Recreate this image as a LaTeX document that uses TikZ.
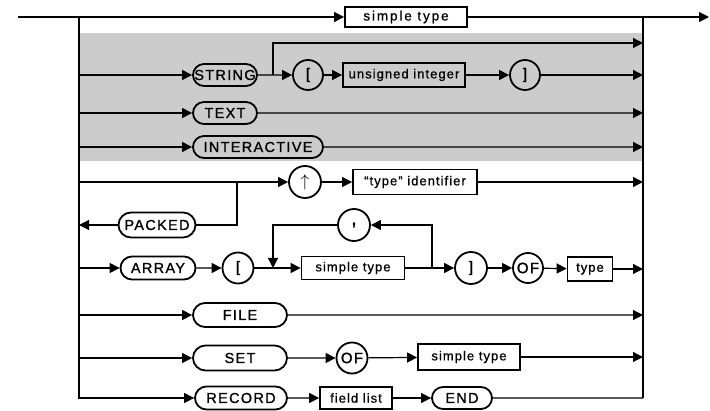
\documentclass[tikz,border=0pt]{standalone}
\usepackage{fontspec}
\usetikzlibrary{arrows.meta,shapes.misc}
\newfontfamily\kwfont[LetterSpace=9,FakeBold=1.2]{Liberation Sans}
\newfontfamily\idfont[LetterSpace=8,FakeBold=0.8]{Liberation Sans}
\tikzset{
  line/.style={line width=1.2pt},
  flow/.style={line width=1.2pt,-{Triangle[length=10pt,width=10pt]}},
  kwbox/.style={draw,rounded rectangle,line width=1.8pt,inner sep=0pt,
    minimum height=22pt,font=\kwfont\fontsize{14.5}{14.5}\selectfont},
  idbox/.style={draw,rectangle,line width=1.8pt,inner sep=0pt,
    minimum height=23pt,font=\idfont\fontsize{13}{13}\selectfont},
  sym/.style={draw,circle,line width=1.8pt,inner sep=0pt,minimum size=30pt,
    font=\kwfont\fontsize{15}{15}\selectfont}
}
\begin{document}
\begin{tikzpicture}[x=1pt,y=-1pt]
\useasboundingbox (0,0) rectangle (710,411);
% shaded band of the string/text/interactive alternatives
\fill[black!20] (79,33) rectangle (643,161);

% main line and the two buses
\coordinate (in) at (18,17);
\coordinate (out) at (709,17);
\coordinate (jl) at (79,17);
\coordinate (jr) at (643,17);
\node[idbox,minimum width=122pt,minimum height=20pt,font=\idfont\fontsize{13.5}{13.5}\selectfont\addfontfeature{LetterSpace=14}] (st0) at (406,17) {simple type};

% string / text / interactive
\node[kwbox,minimum width=64pt] (string) at (225,75) {STRING};
\node[sym] (lb1) at (308,75) {[};
\node[idbox,minimum width=122pt,minimum height=24pt] (uint) at (404,75) {unsigned integer};
\node[sym] (rb1) at (525,75) {]};
\coordinate (sb) at (273,75);
\coordinate (sbt) at (273,43);
\node[kwbox,minimum width=64pt] (text) at (225,113) {TEXT};
\node[kwbox,minimum width=130pt] (inter) at (258,147) {INTERACTIVE};

% pointer and packed
\node[sym,minimum size=32pt,font=\fontsize{18}{18}\selectfont] (up) at (305,182) {$\uparrow$};
\node[idbox,minimum width=124pt,minimum height=25pt] (tid) at (415,182) {“type” identifier};
\node[kwbox,minimum width=77pt,minimum height=25pt] (packed) at (157,225) {PACKED};
\coordinate (pk) at (237,182);

% array
\node[kwbox,minimum width=75pt,minimum height=23pt] (array) at (158,268) {ARRAY};
\node[sym,minimum size=31pt] (lb2) at (238,268) {[};
\node[idbox,minimum width=103pt] (st2) at (353,268) {simple type};
\node[sym,minimum size=32pt,font=\kwfont\fontsize{20}{20}\selectfont] (comma) at (354,225) {,};
\coordinate (aj) at (273,268);
\coordinate (ak) at (432,268);
\node[sym,minimum size=32pt] (rb2) at (471,268) {]};
\node[sym] (of1) at (528,268) {OF};
\node[idbox,minimum width=45pt,minimum height=24pt] (type) at (590,269) {type};

% file, set, record
\node[kwbox,minimum width=94pt,minimum height=24pt] (file) at (240,315) {FILE};
\node[kwbox,minimum width=94pt,minimum height=25pt] (set) at (240,358) {SET};
\node[sym,minimum size=31pt] (of2) at (352,358) {OF};
\node[idbox,minimum width=102pt,minimum height=26pt] (st3) at (469,357) {simple type};
\node[kwbox,minimum width=92pt,minimum height=23pt] (record) at (241,398) {RECORD};
\node[idbox,minimum width=72pt,minimum height=22pt] (fl) at (356,398) {field list};
\node[kwbox,minimum width=60pt,minimum height=22pt] (end) at (462,398) {END};

% connectors
\draw[flow] (in) -- (st0);
\draw[flow] (st0) -- (out);
\draw[line] (jr) -- (end -| jr);
\draw[flow] (jl) |- (record);

\draw[flow] (string -| jl) -- (string);
\draw[flow] (string) -- (lb1);
\draw[flow] (sb) -- (sbt) -- (sbt -| jr);
\draw[flow] (lb1) -- (uint);
\draw[flow] (uint) -- (rb1);
\draw[flow] (rb1) -- (rb1 -| jr);
\draw[flow] (text -| jl) -- (text);
\draw[flow] (text) -- (text -| jr);
\draw[flow] (inter -| jl) -- (inter);
\draw[flow] (inter) -- (inter -| jr);

\draw[flow] (up -| jl) -- (up);
\draw[flow] (up) -- (tid);
\draw[flow] (tid) -- (tid -| jr);
\draw[line] (pk) |- (packed);
\draw[flow] (packed) -- (packed -| jl);

\draw[flow] (array -| jl) -- (array);
\draw[flow] (array) -- (lb2);
\draw[flow] (lb2) -- (st2);
\draw[line] (st2) -- (ak);
\draw[flow] (ak) |- (comma);
\draw[flow] (comma) -| (aj);
\draw[flow] (ak) -- (rb2);
\draw[flow] (rb2) -- (of1);
\draw[flow] (of1) -- (type);
\draw[flow] (type) -- (type -| jr);

\draw[flow] (file -| jl) -- (file);
\draw[flow] (file) -- (file -| jr);
\draw[flow] (set -| jl) -- (set);
\draw[flow] (set) -- (of2);
\draw[flow] (of2) -- (st3);
\draw[flow] (st3) -- (st3 -| jr);
\draw[flow] (record) -- (fl);
\draw[flow] (fl) -- (end);
\draw[line] (end) -- (end -| jr);
\end{tikzpicture}
\end{document}
